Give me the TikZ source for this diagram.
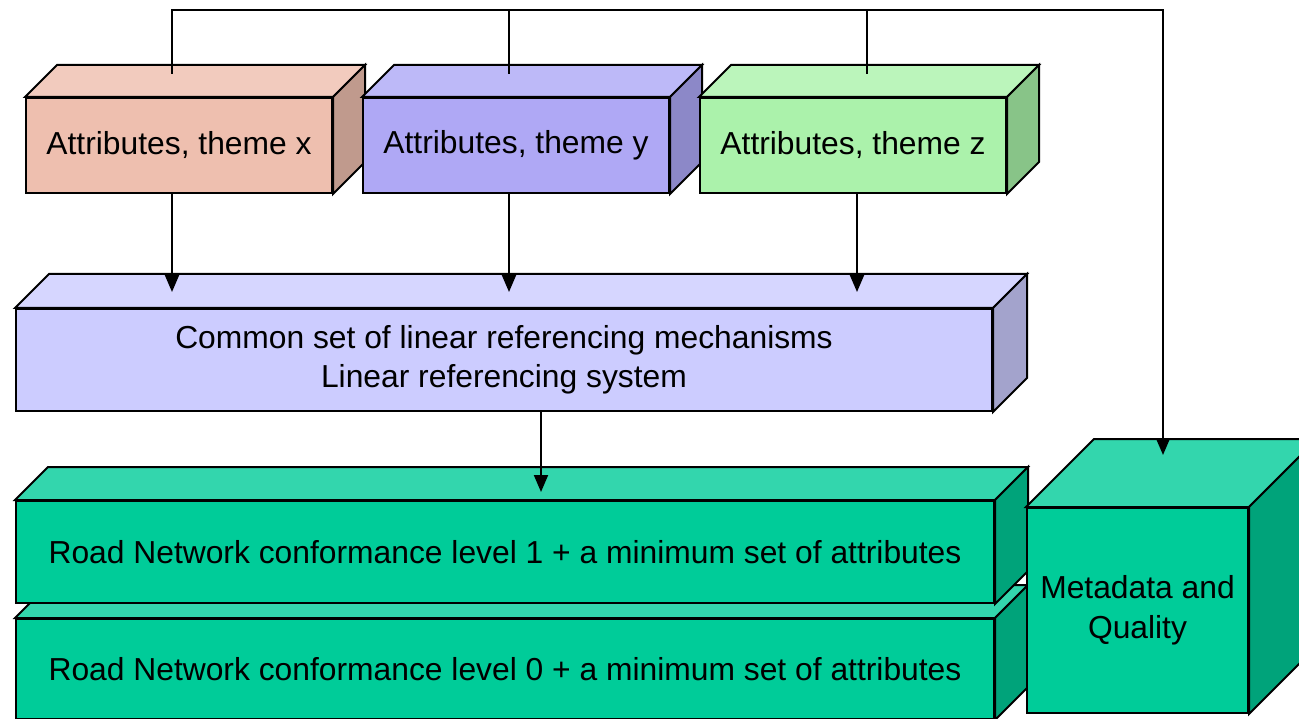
\documentclass[tikz,border=0pt]{standalone}
\usepackage{fontspec}
\setmainfont{Liberation Sans}
\usetikzlibrary{arrows.meta,calc}
\definecolor{xf}{RGB}{238,191,175}\definecolor{xt}{RGB}{242,203,190}\definecolor{xs}{RGB}{192,154,141}
\definecolor{yf}{RGB}{175,168,245}\definecolor{yt}{RGB}{189,185,248}\definecolor{ys}{RGB}{140,136,200}
\definecolor{zf}{RGB}{171,242,171}\definecolor{zt}{RGB}{187,245,187}\definecolor{zs}{RGB}{136,196,136}
\definecolor{cf}{RGB}{204,204,255}\definecolor{ct}{RGB}{214,214,255}\definecolor{cs}{RGB}{163,163,204}
\definecolor{gf}{RGB}{0,204,153}\definecolor{gt}{RGB}{51,214,173}\definecolor{gs}{RGB}{0,163,122}
\tikzset{
  face/.style={draw=black,line width=2pt,line join=miter},
  frontbox/.style={face,anchor=north west,inner sep=0pt,align=center,
    font=\fontsize{31.8pt}{39.5pt}\selectfont},
  conn/.style={draw=black,line width=2pt},
  arr/.style={conn,-{Triangle[width=14pt,length=17pt]}}
}
% cuboid faces: #1 node name, #2 depth, #3 top colour, #4 side colour
\newcommand\mycubefaces[4]{%
  \filldraw[face,fill=#3] (#1.north west) -- ++(#2,#2) -- ($(#1.north east)+(#2,#2)$) -- (#1.north east) -- cycle;
  \filldraw[face,fill=#4] (#1.north east) -- ++(#2,#2) -- ($(#1.south east)+(#2,#2)$) -- (#1.south east) -- cycle;
}
\begin{document}
\begin{tikzpicture}[x=1pt,y=1pt]
\clip (0,0) rectangle (1299,-719);
\fill[white] (0,0) rectangle (1299,-719);
% top theme boxes
\node[frontbox,fill=xf,minimum width=306pt,minimum height=95pt] (bx) at (25,-97) {Attributes, theme x};
\mycubefaces{bx}{32}{xt}{xs}
\node[frontbox,fill=yf,minimum width=306pt,minimum height=95pt] (by) at (362,-97) {Attributes, theme y};
\mycubefaces{by}{32}{yt}{ys}
\node[frontbox,fill=zf,minimum width=306pt,minimum height=95pt] (bz) at (699,-97) {Attributes, theme z};
\mycubefaces{bz}{32}{zt}{zs}
% common linear referencing box
\node[frontbox,fill=cf,minimum width=976pt,minimum height=102pt] (lrs) at (15,-308)
  {Common set of linear referencing mechanisms\\Linear referencing system};
\mycubefaces{lrs}{34}{ct}{cs}
% road network boxes
\node[frontbox,fill=gf,minimum width=978pt,minimum height=100pt] (rn0) at (15,-618)
  {Road Network conformance level 0 + a minimum set of attributes};
\mycubefaces{rn0}{33}{gt}{gs}
\node[frontbox,fill=gf,minimum width=978pt,minimum height=102pt] (rn1) at (15,-500)
  {Road Network conformance level 1 + a minimum set of attributes};
\mycubefaces{rn1}{33}{gt}{gs}
% metadata cube
\node[frontbox,fill=gf,minimum width=221pt,minimum height=205pt] (mq) at (1026,-507)
  {Metadata and\\Quality};
\mycubefaces{mq}{68}{gt}{gs}
% connector points
\coordinate (tx) at (172,-74);
\coordinate (ty) at (509,-74);
\coordinate (tz) at (867,-74);
\coordinate (tr) at (1163,-10);
\coordinate (mqtip) at (1163,-455);
\coordinate (ax) at (172,-292);
\coordinate (ay) at (509,-292);
\coordinate (az) at (857,-292);
\coordinate (ar) at (541,-492);
% connectors
\draw[arr] (tx) |- (tr) -- (mqtip);
\draw[conn] (ty) -- (ty |- tr);
\draw[conn] (tz) -- (tz |- tr);
\draw[arr] (bx.south -| ax) -- (ax);
\draw[arr] (by.south -| ay) -- (ay);
\draw[arr] (bz.south -| az) -- (az);
\draw[arr] (lrs.south -| ar) -- (ar);
\end{tikzpicture}
\end{document}
